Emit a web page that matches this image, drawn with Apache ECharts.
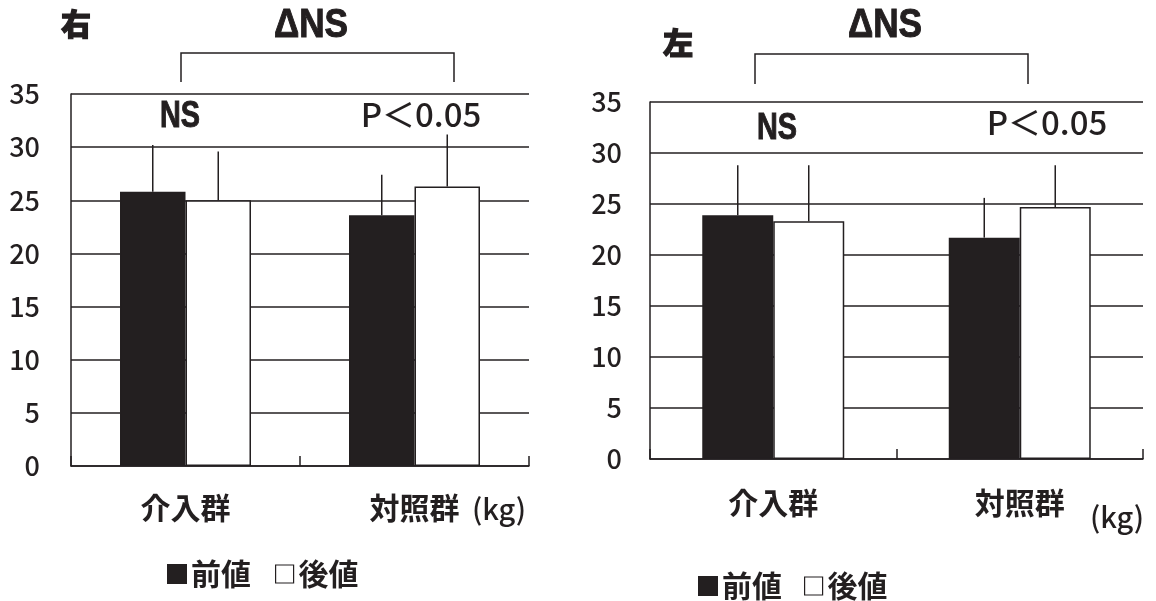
<!DOCTYPE html>
<html>
<head>
<meta charset="utf-8">
<script src="https://cdn.jsdelivr.net/npm/echarts@6/dist/echarts.min.js"></script>
<style>
  html, body { margin: 0; padding: 0; background: #ffffff; }
  #chart { width: 1156px; height: 601px; }
</style>
</head>
<body>
<div id="chart"></div>
<script>
// Grip strength (kg) before / after, intervention vs. control group
var categories = ['介入群', '対照群'];
var seriesNames = ['前値', '後値'];
var yTicks = { min: 0, max: 35, interval: 5 };

// 右 (right hand)
var rightPre = [25.8, 23.6];
var rightPreSD = [4.4, 3.8];
var rightPost = [25.0, 26.3];
var rightPostSD = [4.6, 4.9];

// 左 (left hand)
var leftPre = [23.9, 21.7];
var leftPreSD = [4.9, 3.9];
var leftPost = [23.3, 24.7];
var leftPostSD = [5.5, 4.1];

var INK = '#231f20';
var CJK = '"Noto Sans CJK JP", "Noto Sans", sans-serif';
var LATIN = '"Liberation Sans", Arial, sans-serif';

var chart = echarts.init(document.getElementById('chart'), null, { renderer: 'canvas' });

// error bar data rows: [category index, mean, mean + SD]
function errRows(means, sds) {
  return means.map(function (m, i) { return [i, m, m + sds[i]]; });
}

// upward-only error whisker drawn at the centre of its bar
function whisker(side, barRatio) {
  return function (params, api) {
    var cat = api.value(0);
    var base = api.coord([cat, api.value(1)]);
    var top = api.coord([cat, api.value(2)]);
    var band = api.size([1, 0])[0];
    var x = base[0] + side * band * barRatio / 2;
    return {
      type: 'line',
      shape: { x1: x, y1: base[1], x2: x, y2: top[1] },
      style: { stroke: INK, lineWidth: 1.5 }
    };
  };
}

function xAxisFor(grid, margin) {
  return {
    gridIndex: grid, type: 'category', data: categories,
    axisLine: { lineStyle: { color: INK, width: 1.5 } },
    axisTick: { show: true, inside: true, length: 10, lineStyle: { color: INK, width: 1.5 } },
    axisLabel: { margin: margin, fontSize: 30, fontWeight: 'bold', color: INK, fontFamily: CJK }
  };
}

function yAxisFor(grid, margin) {
  return {
    gridIndex: grid, type: 'value',
    min: yTicks.min, max: yTicks.max, interval: yTicks.interval,
    axisLine: { show: true, lineStyle: { color: INK, width: 1.5 } },
    axisTick: { show: false },
    splitLine: { lineStyle: { color: INK, width: 1.5 } },
    axisLabel: { margin: margin, fontSize: 27, fontWeight: 500, color: INK, fontFamily: CJK }
  };
}

function barSeries(grid, name, data, fill, width) {
  return {
    type: 'bar', name: name, xAxisIndex: grid, yAxisIndex: grid,
    data: data, barWidth: width, barGap: '0%',
    itemStyle: { color: fill, borderColor: INK, borderWidth: 1.5 },
    emphasis: { disabled: true }
  };
}

function errSeries(grid, name, means, sds, side, ratio) {
  return {
    type: 'custom', name: name, xAxisIndex: grid, yAxisIndex: grid,
    data: errRows(means, sds), renderItem: whisker(side, ratio),
    encode: { x: 0, y: [1, 2] }, z: 5, silent: true
  };
}

function legendFor(left, top, gap) {
  return {
    left: left, top: top, orient: 'horizontal',
    itemWidth: 18, itemHeight: 18, itemGap: gap, icon: 'rect',
    selectedMode: false,
    data: [
      { name: seriesNames[0] },
      { name: seriesNames[1], itemStyle: { borderWidth: 1.2 } }
    ],
    textStyle: { fontSize: 30, fontWeight: 'bold', color: INK, fontFamily: CJK }
  };
}

// heavy: extra outline stroke to thicken the glyphs
function txt(x, y, text, size, weight, family, sx, heavy) {
  var style = {
    text: text, fontSize: size, fontWeight: weight || 'normal',
    fontFamily: family || CJK, fill: INK, align: 'center', verticalAlign: 'middle'
  };
  if (heavy) { style.stroke = INK; style.lineWidth = heavy; }
  return { type: 'text', x: x, y: y, scaleX: sx || 1, style: style };
}

function bracket(x1, x2, yTop, yBottom) {
  return {
    type: 'polyline',
    shape: { points: [[x1, yBottom], [x1, yTop], [x2, yTop], [x2, yBottom]] },
    style: { stroke: INK, lineWidth: 1.5, fill: null }
  };
}

var RATIO_R = 0.286, RATIO_L = 0.288;

var option = {
  backgroundColor: '#ffffff',
  animation: false,
  grid: [
    { left: 71, top: 94, width: 458, height: 372 },
    { left: 650, top: 102, width: 493, height: 357 }
  ],
  xAxis: [xAxisFor(0, 27), xAxisFor(1, 29)],
  yAxis: [yAxisFor(0, 31), yAxisFor(1, 28)],
  legend: [legendFor(162, 554, 24), legendFor(693, 566, 22)],
  series: [
    barSeries(0, seriesNames[0], rightPre, INK, '28.6%'),
    barSeries(0, seriesNames[1], rightPost, '#ffffff', '28.6%'),
    errSeries(0, seriesNames[0], rightPre, rightPreSD, -1, RATIO_R),
    errSeries(0, seriesNames[1], rightPost, rightPostSD, 1, RATIO_R),
    barSeries(1, seriesNames[0], leftPre, INK, '28.8%'),
    barSeries(1, seriesNames[1], leftPost, '#ffffff', '28.8%'),
    errSeries(1, seriesNames[0], leftPre, leftPreSD, -1, RATIO_L),
    errSeries(1, seriesNames[1], leftPost, leftPostSD, 1, RATIO_L)
  ],
  graphic: [
    // panel titles
    txt(76, 24, '右', 30, 900, CJK, 1, 1.2),
    txt(678, 43, '左', 30, 900, CJK, 1, 1.2),
    // between-group comparison of change
    txt(311, 26, 'ΔNS', 40, 'bold', LATIN, 0.88, 1),
    txt(885, 26, 'ΔNS', 40, 'bold', LATIN, 0.88, 1),
    bracket(181, 454, 53, 82),
    bracket(755, 1028, 54, 84),
    // within-group comparisons
    txt(180, 117, 'NS', 36, 'bold', LATIN, 0.8, 1),
    txt(421, 114, 'P＜0.05', 33, 500),
    txt(777, 129, 'NS', 36, 'bold', LATIN, 0.8, 1),
    txt(1047, 122, 'P＜0.05', 33, 500),
    // unit
    txt(499, 509, '(kg)', 29, 500),
    txt(1117, 517, '(kg)', 29, 500)
  ]
};

chart.setOption(option);
</script>
</body>
</html>
